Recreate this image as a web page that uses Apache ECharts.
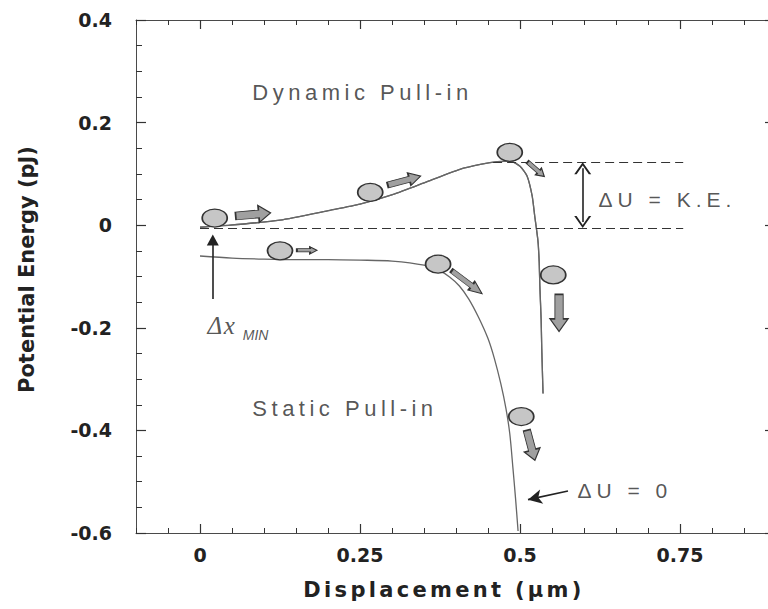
<!DOCTYPE html>
<html><head><meta charset="utf-8">
<script src="https://cdn.jsdelivr.net/npm/echarts@6/dist/echarts.min.js"></script>
<style>
html,body{margin:0;padding:0;background:#fff}
#wrap{position:relative;width:768px;height:609px}
#axes,#plot{position:absolute;left:0;top:0;width:768px;height:609px}
#st{position:absolute;left:0;top:0;width:1px;height:1px;overflow:hidden;color:transparent;font-size:1px}
text[style*="lspA"],text[font-family*="lspA"]{letter-spacing:4.5px}
text[style*="lspB"],text[font-family*="lspB"]{letter-spacing:5px}
text[style*="lspC"],text[font-family*="lspC"]{letter-spacing:3.3px}
text[style*="lspD"],text[font-family*="lspD"]{letter-spacing:1.5px}
</style></head><body><div id="wrap"><div id="axes"></div><div id="plot"></div></div><div id="st"></div>
<script>
// ---- data (axis units: x in µm, y in pJ) ----
const xTicks = [0, 0.25, 0.5, 0.75];
const xTickLabels = ['0', '0.25', '0.5', '0.75'];
const yTicks = [-0.6, -0.4, -0.2, 0, 0.2, 0.4];
const yTickLabels = ['-0.6', '-0.4', '-0.2', '0', '0.2', '0.4'];

const dynamicX = [0, 0.047, 0.125, 0.203, 0.25, 0.302, 0.355, 0.406, 0.44, 0.465, 0.485, 0.5, 0.511, 0.519, 0.523, 0.528, 0.530, 0.531, 0.533, 0.534, 0.536];
const dynamicY = [-0.004, 0.000, 0.010, 0.029, 0.041, 0.060, 0.085, 0.109, 0.119, 0.124, 0.125, 0.115, 0.096, 0.057, 0.018, -0.030, -0.072, -0.118, -0.183, -0.241, -0.328];

const staticX = [0, 0.05, 0.1, 0.15, 0.2, 0.25, 0.3, 0.35, 0.375, 0.39, 0.405, 0.42, 0.435, 0.45, 0.46, 0.47, 0.478, 0.484, 0.489, 0.493, 0.497];
const staticY = [-0.060, -0.064, -0.066, -0.067, -0.067, -0.068, -0.070, -0.078, -0.089, -0.101, -0.118, -0.144, -0.179, -0.221, -0.260, -0.309, -0.357, -0.406, -0.474, -0.532, -0.596];

// energy levels used for the dashed guide lines
const keTop = 0.123;
const keBottom = -0.006;
const levelStart = [0.458, 0];
const levelEnd = 0.755;

// balls and motion arrows (data coordinates)
const ballX = [0.023, 0.125, 0.266, 0.484, 0.372, 0.552, 0.502];
const ballY = [0.014, -0.050, 0.064, 0.142, -0.076, -0.097, -0.373];
const arrowX = [0.083, 0.167, 0.319, 0.525, 0.417, 0.561, 0.517];
const arrowY = [0.021, -0.049, 0.087, 0.109, -0.111, -0.171, -0.429];

// annotations
const noteText = ['Dynamic Pull-in', 'Static Pull-in', 'ΔU = K.E.', 'ΔU = 0', 'Δx', 'MIN'];
const noteX = [0.081, 0.081, 0.622, 0.589, 0.011, 0.066];
const noteY = [0.258, -0.357, 0.050, -0.517, -0.196, -0.214];

// pointer arrows: [fromX, fromY, toX, toY]
const dxMinArrow = [0.020, -0.144, 0.020, -0.029];
const du0Arrow = [0.575, -0.518, 0.5125, -0.535];
const keArrow = [0.598, 0.111, 0.598, 0.006];

// ---- styles ----
const arrowRot = [5, 0, 15, -41, -37, -90, -75];
const arrowSz = [[35, 17], [20, 7], [34, 13], [22, 9], [38, 11], [37, 18], [31, 16]];
const noteStyles = [
  {fontFamily: 'lspA, "Liberation Sans", Arial', fontSize: 22},
  {fontFamily: 'lspA, "Liberation Sans", Arial', fontSize: 22},
  {fontFamily: 'lspB, "Liberation Sans", Arial', fontSize: 21},
  {fontFamily: 'lspB, "Liberation Sans", Arial', fontSize: 21},
  {fontFamily: 'lspD, "Liberation Serif", serif', fontSize: 25, fontStyle: 'italic'},
  {fontFamily: '"Liberation Sans", Arial', fontSize: 14, fontStyle: 'italic'}
];
const ELLIPSE = 'path://M100,50 C100,77.6 77.6,100 50,100 C22.4,100 0,77.6 0,50 C0,22.4 22.4,0 50,0 C77.6,0 100,22.4 100,50 Z';
const BLOCK = 'path://M0,27 L66,27 L66,0 L100,50 L66,100 L66,73 L0,73 Z';
const CHEVRON = 'path://M0,100 L50,0 L100,100 L86,100 L50,26 L14,100 Z';
const AXC = '#4a4a4a';
const TKC = '#333';
const GRID = {left: 136, right: -8, top: 20, bottom: 76, containLabel: false, outerBoundsMode: 'none'};

function pick(ticks, labels) {
  return v => { const i = ticks.findIndex(t => Math.abs(t - v) < 1e-6); return i >= 0 ? labels[i] : ''; };
}
const tickFont = {color: '#222', fontFamily: '"DejaVu Sans"', fontWeight: 'bold', fontSize: 19};

function xAx(pos, major, showLine, extra) {
  return Object.assign({
    type: 'value', min: -0.1, max: 0.9, position: pos,
    axisLine: {show: showLine, onZero: false, lineStyle: {color: AXC, width: 1}},
    axisTick: major ? {show: true, inside: true, length: 9, customValues: xTicks, lineStyle: {color: TKC, width: 1.2}}
                    : {show: true, inside: true, length: 5, lineStyle: {color: TKC, width: 1}},
    axisLabel: {show: false},
    splitLine: {show: false}
  }, major ? {} : {interval: 0.05}, extra || {});
}
function yAx(pos, minor, showLine, tickLen, extra) {
  return Object.assign({
    type: 'value', min: -0.6, max: 0.4, interval: minor ? 0.05 : 0.2, position: pos,
    axisLine: {show: showLine, onZero: false, lineStyle: {color: AXC, width: 1}},
    axisTick: {show: true, inside: true, length: tickLen, lineStyle: {color: TKC, width: minor ? 1 : 1.2}},
    axisLabel: {show: false},
    splitLine: {show: false}
  }, extra || {});
}

// ---- layer 1: frame, ticks, tick labels, axis titles ----
const axesOption = {
  animation: false,
  backgroundColor: '#fff',
  grid: GRID,
  xAxis: [
    xAx('bottom', false, true, {
      axisLabel: Object.assign({show: true, margin: 12, formatter: pick(xTicks, xTickLabels)}, tickFont),
      name: 'Displacement (μm)', nameLocation: 'middle', nameGap: 46,
      nameTextStyle: {color: '#222', fontFamily: 'lspC, "DejaVu Sans"', fontWeight: 'bold', fontSize: 21, padding: [0, 24, 0, 0]}
    }),
    xAx('bottom', true, false),
    xAx('top', false, true),
    xAx('top', true, false)
  ],
  yAxis: [
    yAx('left', false, true, 10, {
      axisLabel: Object.assign({show: true, margin: 24, formatter: pick(yTicks, yTickLabels)}, tickFont),
      name: 'Potential Energy (pJ)', nameLocation: 'middle', nameGap: 99,
      nameTextStyle: {color: '#222', fontFamily: '"DejaVu Sans"', fontWeight: 'bold', fontSize: 21, padding: [0, 0, 0, 14]}
    }),
    yAx('left', true, false, 6),
    yAx('right', false, true, 11)
  ],
  series: [{
    type: 'line', silent: true, smooth: 0.2, symbol: 'none', showSymbol: false,
    data: dynamicX.map((x, i) => [x, dynamicY[i]]),
    lineStyle: {color: '#666', width: 1.3}
  }]
};

// ---- layer 2: curves and annotations on the same scales ----
const plotOption = {
  animation: false,
  backgroundColor: 'transparent',
  grid: GRID,
  xAxis: {type: 'value', min: -0.1, max: 0.9, show: false},
  yAxis: {type: 'value', min: -0.6, max: 0.4, show: false},
  series: [
    {
      type: 'line', name: 'Dynamic', smooth: 0.2, symbol: 'none', z: 3,
      data: dynamicX.map((x, i) => [x, dynamicY[i]]),
      lineStyle: {color: '#666', width: 1.3}
    },
    {
      type: 'line', name: 'Static', smooth: 0.3, symbol: 'none', z: 3,
      data: staticX.map((x, i) => [x, staticY[i]]),
      lineStyle: {color: '#666', width: 1.3},
      markLine: {
        silent: true, animation: false, label: {show: false}, emphasis: {disabled: true},
        data: [
          [{coord: [levelStart[0], keTop], symbol: 'none', lineStyle: {type: [9, 5], color: '#333', width: 1.2}},
           {coord: [levelEnd, keTop], symbol: 'none'}],
          [{coord: [levelStart[1], keBottom], symbol: 'none', lineStyle: {type: [9, 5], color: '#333', width: 1.2}},
           {coord: [levelEnd, keBottom], symbol: 'none'}],
          [{coord: [dxMinArrow[0], dxMinArrow[1]], symbol: 'none', lineStyle: {type: 'solid', color: '#222', width: 1.6}},
           {coord: [dxMinArrow[2], dxMinArrow[3]], symbol: 'triangle', symbolSize: [12, 11], itemStyle: {color: '#222'}}],
          [{coord: [du0Arrow[0], du0Arrow[1]], symbol: 'none', lineStyle: {type: 'solid', color: '#222', width: 1.6}},
           {coord: [du0Arrow[2], du0Arrow[3]], symbol: 'arrow', symbolSize: [11, 14], itemStyle: {color: '#222'}}],
          [{coord: [keArrow[0], keArrow[1]], symbol: CHEVRON, symbolSize: [17, 12], lineStyle: {type: 'solid', color: '#222', width: 1.6}, itemStyle: {color: '#222'}},
           {coord: [keArrow[2], keArrow[3]], symbol: CHEVRON, symbolSize: [17, 12], itemStyle: {color: '#222'}}]
        ]
      }
    },
    {
      type: 'scatter', name: 'balls', z: 5, symbol: ELLIPSE, symbolSize: [25, 18],
      data: ballX.map((x, i) => [x, ballY[i]]),
      itemStyle: {color: '#c6c6c6', borderColor: '#333', borderWidth: 1.5, opacity: 1}
    },
    {
      type: 'scatter', name: 'arrows', z: 5, symbol: BLOCK,
      data: arrowX.map((x, i) => ({value: [x, arrowY[i]], symbolSize: arrowSz[i], symbolRotate: arrowRot[i]})),
      itemStyle: {color: '#a0a0a0', borderColor: '#333', borderWidth: 1.2, opacity: 1}
    },
    {
      type: 'scatter', name: 'notes', z: 6, symbolSize: 1,
      itemStyle: {color: 'rgba(0,0,0,0)'},
      data: noteX.map((x, i) => ({
        value: [x, noteY[i]],
        label: Object.assign({show: true, position: 'right', distance: 0, verticalAlign: 'middle', align: 'left',
          color: '#2a2a2a', formatter: noteText[i]}, noteStyles[i])
      }))
    }
  ]
};

const axesChart = echarts.init(document.getElementById('axes'), null, {renderer: 'svg'});
const plotChart = echarts.init(document.getElementById('plot'), null, {renderer: 'svg'});
axesChart.setOption(axesOption);
plotChart.setOption(plotOption);
function refreshAll() {
  [axesChart, plotChart].forEach(c => { c.resize(); c.getZr().flush(); });
}
axesChart.getZr().flush();
plotChart.getZr().flush();
requestAnimationFrame(refreshAll);
setTimeout(() => { refreshAll(); document.getElementById('st').textContent = 'ready'; }, 60);
</script>
</body></html>
